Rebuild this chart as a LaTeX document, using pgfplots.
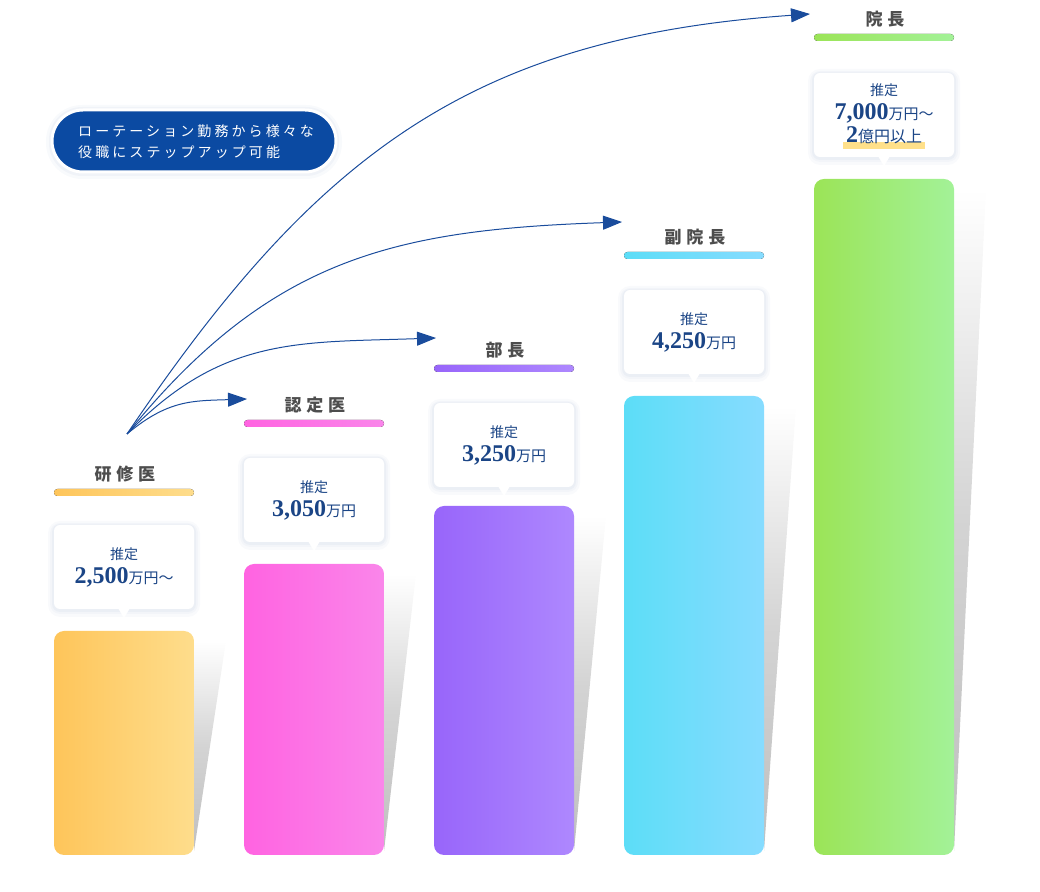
\documentclass[border=0pt]{standalone}
\usepackage{fontspec}
\usepackage{pgfplots}
\pgfplotsset{compat=1.18}
\usetikzlibrary{arrows.meta}
\setmainfont{Liberation Serif}
\newfontfamily\jp{Noto Sans CJK JP}
\newfontfamily\jpt[LetterSpace=28]{Noto Sans CJK JP}
\newfontfamily\jpp[LetterSpace=22]{Noto Sans CJK JP}
\newfontfamily\num{Liberation Serif}

\definecolor{navy}{HTML}{1B4586}
\definecolor{arrowc}{HTML}{1A4C9C}
\definecolor{pill}{HTML}{0B4AA2}
\definecolor{ttlc}{HTML}{4D4D4D}
\definecolor{shd}{HTML}{8FA3C8}
\definecolor{hl}{HTML}{FFE08A}
\definecolor{aL}{HTML}{FEC55A}\definecolor{aR}{HTML}{FEDD8C}
\definecolor{bL}{HTML}{FF63E1}\definecolor{bR}{HTML}{FA86EA}
\definecolor{cL}{HTML}{9865FA}\definecolor{cR}{HTML}{AE88FE}
\definecolor{dL}{HTML}{5CDDF7}\definecolor{dR}{HTML}{87DCFF}
\definecolor{eL}{HTML}{9BE457}\definecolor{eR}{HTML}{A3F298}

% shadow wedge to the right of a bar: right edge, height
\newcommand\barshadow[2]{%
  \addplot[draw=none, top color=white, bottom color=black!25, middle color=black!17]
    coordinates {(#1,4) (#1+32,#2-10) (#1,#2-10)} -- cycle;}
% title + underline: centre x, title y, colour prefix, text
\newcommand\bartitle[4]{%
  \fill[rounded corners=3.5bp, left color=#3L, right color=#3R] (axis cs:#1-70,#2-22) rectangle (axis cs:#1+70,#2-15);
  \node[text=ttlc, font=\fontsize{17bp}{20bp}\jpt\bfseries] at (axis cs:#1+1,#2) {#4};}
% callout box: centre x, top, bottom
\newcommand\callout[3]{%
  \fill[shd, opacity=.05, rounded corners=12bp] (axis cs:#1-76,#3-8) rectangle (axis cs:#1+76,#2+4);
  \fill[shd, opacity=.06, rounded corners=10bp] (axis cs:#1-74,#3-5) rectangle (axis cs:#1+74,#2+2);
  \fill[shd, opacity=.08, rounded corners=8bp] (axis cs:#1-72,#3-3) rectangle (axis cs:#1+72,#2+1);
  \fill[white, rounded corners=6bp] (axis cs:#1-70,#3) rectangle (axis cs:#1+70,#2);
  \fill[white] (axis cs:#1-6,#3+1) -- (axis cs:#1,#3-9) -- (axis cs:#1+6,#3+1) -- cycle;}
\newcommand\val[1]{{\fontsize{24bp}{26bp}\num\bfseries #1}}
\newcommand\unit[1]{{\fontsize{15bp}{17bp}\jp #1}}

\begin{document}
\begin{tikzpicture}
\begin{axis}[x=1bp, y=1bp, xmin=0, xmax=1040, ymin=-37, ymax=855,
  hide axis, clip=false]
\path (axis cs:0,-37) rectangle (axis cs:1040,855);

% shadows
\barshadow{194}{224}
\barshadow{384}{291}
\barshadow{574}{349}
\barshadow{764}{459}
\barshadow{954}{676}

% bars
\addplot[ybar, bar width=140, bar shift=0pt, draw=none, rounded corners=10bp,
  left color=aL, right color=aR] coordinates {(124,224)};
\addplot[ybar, bar width=140, bar shift=0pt, draw=none, rounded corners=10bp,
  left color=bL, right color=bR] coordinates {(314,291)};
\addplot[ybar, bar width=140, bar shift=0pt, draw=none, rounded corners=10bp,
  left color=cL, right color=cR] coordinates {(504,349)};
\addplot[ybar, bar width=140, bar shift=0pt, draw=none, rounded corners=10bp,
  left color=dL, right color=dR] coordinates {(694,459)};
\addplot[ybar, bar width=140, bar shift=0pt, draw=none, rounded corners=10bp,
  left color=eL, right color=eR] coordinates {(884,676)};

% titles
\bartitle{124}{381}{a}{研修医}
\bartitle{314}{450}{b}{認定医}
\bartitle{504}{505}{c}{部長}
\bartitle{694}{618}{d}{副院長}
\bartitle{884}{836}{e}{院長}

% callouts
\callout{124}{330}{246}
\callout{314}{397}{313}
\callout{504}{452}{368}
\callout{694}{565}{481}
\callout{884}{782}{698}

\node[text=navy, font=\fontsize{14bp}{16bp}\jp] at (axis cs:124,301) {推定};
\node[text=navy] at (axis cs:124,278) {\val{2,500}\unit{万円～}};
\node[text=navy, font=\fontsize{14bp}{16bp}\jp] at (axis cs:314,368) {推定};
\node[text=navy] at (axis cs:314,345) {\val{3,050}\unit{万円}};
\node[text=navy, font=\fontsize{14bp}{16bp}\jp] at (axis cs:504,423) {推定};
\node[text=navy] at (axis cs:504,400) {\val{3,250}\unit{万円}};
\node[text=navy, font=\fontsize{14bp}{16bp}\jp] at (axis cs:694,536) {推定};
\node[text=navy] at (axis cs:694,513) {\val{4,250}\unit{万円}};
\fill[hl] (axis cs:843,706) rectangle (axis cs:925,713);
\node[text=navy, font=\fontsize{14bp}{16bp}\jp] at (axis cs:884,765) {推定};
\node[text=navy] at (axis cs:884,742) {\val{7,000}\unit{万円～}};
\node[text=navy] at (axis cs:884,720) {\val{2}{\fontsize{16bp}{18bp}\jp 億円以上}};

% arrows
\draw[arrowc, line width=1bp, -{Triangle[length=19bp,width=14bp]}]
  (axis cs:127,421) to[out=40, in=182, looseness=1.1] (axis cs:247,456);
\draw[arrowc, line width=1bp, -{Triangle[length=19bp,width=14bp]}]
  (axis cs:127,421) to[out=46, in=182, looseness=1.08] (axis cs:436,517);
\draw[arrowc, line width=1bp, -{Triangle[length=19bp,width=14bp]}]
  (axis cs:127,421) to[out=51, in=182, looseness=1.08] (axis cs:622,633);
\draw[arrowc, line width=1bp, -{Triangle[length=19bp,width=14bp]}]
  (axis cs:127,421) to[out=56, in=184, looseness=1.08] (axis cs:810,841);

% pill
\fill[shd, opacity=.06, rounded corners=36bp] (axis cs:46,676) rectangle (axis cs:342,750);
\fill[shd, opacity=.08, rounded corners=33bp] (axis cs:49,679) rectangle (axis cs:339,748);
\draw[white, line width=3bp, fill=pill, rounded corners=31bp] (axis cs:52,683) rectangle (axis cs:336,745);
\node[anchor=west, text=white, font=\fontsize{14bp}{16bp}\jpp, inner sep=0pt] at (axis cs:78,724) {ローテーション勤務から様々な};
\node[anchor=west, text=white, font=\fontsize{14bp}{16bp}\jpp, inner sep=0pt] at (axis cs:78,703) {役職にステップアップ可能};
\end{axis}
\end{tikzpicture}
\end{document}
